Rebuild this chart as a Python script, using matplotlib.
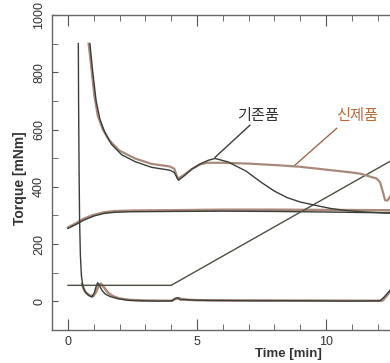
"""Torque vs time: 기존품 vs 신제품."""
import matplotlib
matplotlib.use('Agg')
import matplotlib.pyplot as plt
from matplotlib.ticker import MultipleLocator

plt.rcParams.update({
    'font.family': ['Liberation Sans', 'DejaVu Sans'],
    'font.size': 9,
})

# ---------------------------------------------------------------------------
# data
# ---------------------------------------------------------------------------
# main torque curve
old_t = [0.85, 0.96, 1.09, 1.24, 1.43, 1.69, 2.08, 2.6, 3.24, 3.95, 4.12, 4.28,
         4.5, 4.8, 5.12, 5.45, 5.7, 6.2, 6.9, 7.5, 8.0, 8.5, 9.0, 9.5, 10.2,
         10.8, 11.5, 12.5]
old_v = [900, 800, 700, 635, 590, 548, 512, 488, 468, 458, 450, 423,
         438, 462, 480, 493, 499, 487, 455, 415, 385, 362, 347, 337, 324,
         317, 312, 308]
new_t = [0.80, 0.90, 1.02, 1.15, 1.35, 1.6, 2.0, 2.6, 3.24, 3.95, 4.12, 4.26,
         4.5, 4.8, 5.12, 5.38, 6.0, 7.0, 8.2, 9.0, 10.2, 11.0, 11.32, 11.96,
         12.1, 12.22, 12.29, 12.38, 12.5]
new_v = [900, 820, 720, 650, 600, 562, 526, 499, 480, 471, 463, 428,
         442, 462, 478, 484, 484, 481, 475, 470, 458, 450, 446, 429,
         415, 377, 353, 352, 368]

# plateau curve
old_p_t = [0, 0.3, 0.6, 1.0, 1.4, 1.8, 2.5, 4, 6, 8, 10, 12.5]
old_p_v = [255, 268, 283, 298, 307, 311, 313, 314, 315, 314, 312, 309]
new_p_t = [0, 0.3, 0.6, 1.0, 1.4, 1.8, 2.5, 4, 6, 8, 10, 12.5]
new_p_v = [258, 272, 288, 302, 311, 315, 317, 318, 320, 320, 319, 318]

# ramp
ramp_t = [0, 4.0, 12.5]
ramp_v = [56, 56, 490]

# fast drop curve
old_d_t = [0.40, 0.41, 0.43, 0.45, 0.48, 0.52, 0.57, 0.65, 0.78, 0.92, 1.02,
           1.1, 1.15, 1.22, 1.32, 1.45, 1.63, 1.9, 2.3, 2.8, 3.5, 4.05, 4.15,
           4.25, 4.35, 4.5, 4.7, 5.5, 7, 9, 11, 12.1, 12.25, 12.4, 12.5]
old_d_v = [900, 700, 450, 280, 160, 90, 55, 35, 22, 15, 30,
           55, 65, 55, 38, 25, 17, 10, 4, 2, 1, 2, 10,
           13, 5, 7, 5, 3, 2, 2, 1, 2, 15, 30, 40]
new_d_t = [0.55, 0.6, 0.7, 0.85, 0.98, 1.1, 1.2, 1.28, 1.4, 1.55, 1.75, 2.0,
           2.4, 3, 4, 4.15, 4.3, 4.5, 5, 8, 12.0, 12.2, 12.4, 12.5]
new_d_v = [60, 45, 30, 20, 18, 35, 58, 62, 48, 30, 18, 10,
           5, 3, 2, 8, 11, 6, 4, 3, 2, 3, 25, 38]

old_label = '기존품'
new_label = '신제품'

C_OLD = '#3a3e36'
C_NEW = '#a8897c'

# ---------------------------------------------------------------------------
fig = plt.figure(figsize=(3.9, 3.63), dpi=100)
ax = fig.add_axes([52 / 390, 1 - 330 / 363, 1 - 52 / 390, 315 / 363])

ax.plot(new_p_t, new_p_v, color=C_NEW, lw=1.8)
ax.plot(old_p_t, old_p_v, color=C_OLD, lw=1.0)
ax.plot(new_d_t, new_d_v, color=C_NEW, lw=1.8)
ax.plot(old_d_t, old_d_v, color=C_OLD, lw=1.0)
ax.plot(ramp_t, ramp_v, color='#4a5040', lw=1.0)
ax.plot(new_t, new_v, color=C_NEW, lw=1.6)
ax.plot(old_t, old_v, color=C_OLD, lw=1.0)

# leader lines + labels
ax.plot([5.70, 7.05], [503, 615], color=C_OLD, lw=1.0)
ax.plot([8.80, 10.41], [476, 604], color='#9a6a50', lw=1.0)
ax.text(7.36, 650, old_label, color='#333333', fontsize=11,
        family=['Noto Sans CJK KR', 'DejaVu Sans'], ha='center', va='center')
ax.text(11.19, 650, new_label, color='#c0683e', fontsize=11,
        family=['Noto Sans CJK KR', 'DejaVu Sans'], ha='center', va='center')

ax.set_xlim((52 - 68) / 25.8, (390 - 68) / 25.8)
ax.set_ylim(-100, 1000)

ax.xaxis.set_major_locator(MultipleLocator(5))
ax.xaxis.set_minor_locator(MultipleLocator(1))
ax.yaxis.set_major_locator(MultipleLocator(200))
ax.yaxis.set_minor_locator(MultipleLocator(100))
ax.tick_params(axis='x', which='major', direction='in', length=8, top=True,
               pad=4, labelsize=9, colors='#555555', labelcolor='#333333')
ax.tick_params(axis='x', which='minor', direction='in', length=4, top=True,
               colors='#555555')
ax.tick_params(axis='y', which='both', direction='in', length=4, pad=5,
               labelsize=9, labelrotation=90, colors='#555555',
               labelcolor='#333333')
for lab in ax.get_yticklabels():
    lab.set_va('center')

for side in ['left', 'top', 'bottom']:
    ax.spines[side].set_color('#666666')
    ax.spines[side].set_linewidth(1.0)
ax.spines['right'].set_visible(False)

ax.set_xlabel('Time [min]', fontsize=9.5, fontweight='bold', color='#333333')
ax.xaxis.set_label_coords((288 - 52) / 338, -0.057)
ax.set_ylabel('Torque [mNm]', fontsize=10, fontweight='bold', color='#333333',
              va='center')
ax.yaxis.set_label_coords((20 - 52) / 338, (330 - 178) / 315)

fig.savefig('out.png', dpi=100)
